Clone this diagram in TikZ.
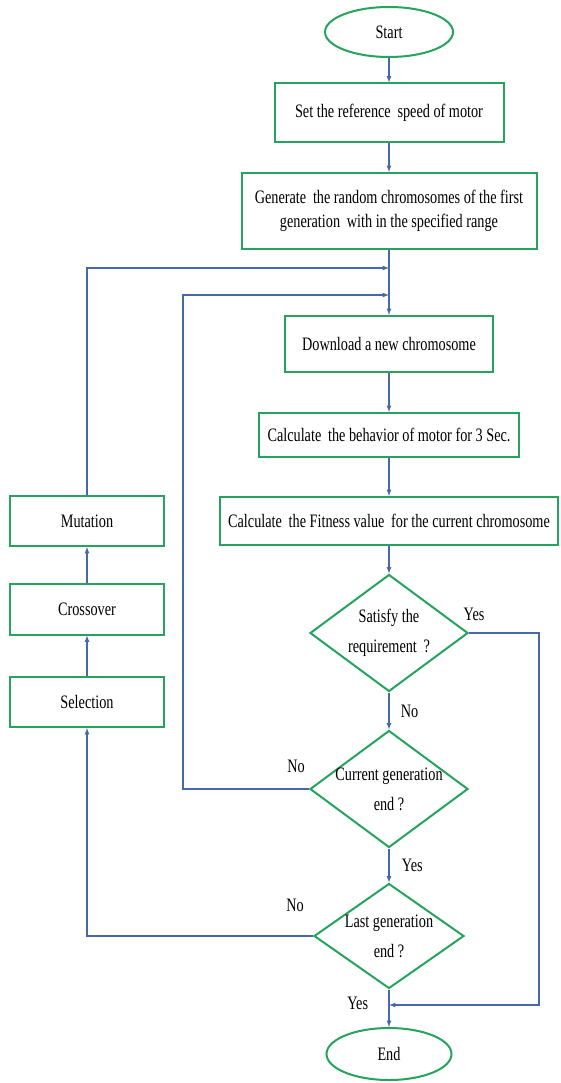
\documentclass[tikz,border=0pt]{standalone}
\usepackage{fontspec}
\setmainfont[FakeStretch=0.75]{Liberation Serif}
\usetikzlibrary{shapes.geometric}
\definecolor{boxgreen}{RGB}{38,163,92}
\definecolor{lineblue}{RGB}{72,104,172}

\begin{document}
\begin{tikzpicture}[x=1pt,y=-1pt,
        every node/.style={font=\fontsize{19}{24}\selectfont},
        proc/.style={draw=boxgreen,line width=2pt,inner sep=0pt,align=center},
        term/.style={ellipse,draw=boxgreen,line width=2pt,inner sep=0pt},
        cond/.style={diamond,draw=boxgreen,line width=2pt,inner sep=-4pt,aspect=1.35,
            align=center,minimum width=158pt,minimum height=117pt},
        flow/.style={draw=lineblue,line width=1.2pt,-latex}]
        \useasboundingbox (0,0) rectangle (560,1083);
        \fill[white] (0,0) rectangle (560,1083);

        % main column
        \node[term,minimum width=128pt,minimum height=50pt] (start) at (389,32) {Start};
        \node[proc,minimum width=229pt,minimum height=59pt] (setref) at (389,113) {Set the reference\, speed of motor};
        \node[proc,minimum width=295pt,minimum height=76pt] (gen) at (389,211) {Generate\, the random chromosomes of the first\\generation\, with in the specified range};
        \node[proc,minimum width=208pt,minimum height=56pt] (download) at (389,344) {Download a new chromosome};
        \node[proc,minimum width=260pt,minimum height=44pt] (behav) at (389,435) {Calculate\, the behavior of motor for 3 Sec.};
        \node[proc,minimum width=338pt,minimum height=48pt] (fitness) at (389,521) {Calculate\, the Fitness value\, for the current chromosome};
        \node[cond] (sat) at (389,633) {Satisfy the\\[6pt]requirement\, ?};
        \node[cond] (curgen) at (389,789) {Current generation\\[6pt]end ?};
        \node[cond,minimum width=150pt,minimum height=105pt] (lastgen) at (389,936) {Last generation\\[6pt]end ?};
        \node[term,minimum width=125pt,minimum height=52pt] (stop) at (389,1054) {End};

        % genetic operators
        \node[proc,minimum width=154pt,minimum height=50pt] (mutation) at (87,521) {Mutation};
        \node[proc,minimum width=154pt,minimum height=51pt] (crossover) at (87,609) {Crossover};
        \node[proc,minimum width=154pt,minimum height=50pt] (selection) at (87,702) {Selection};

        \coordinate (outerjoin) at (389,268);
        \coordinate (innerjoin) at (389,295);
        \coordinate (endjoin) at (389,1005);

        \draw[flow] (start) -- (setref);
        \draw[flow] (setref) -- (gen);
        \draw[flow] (gen) -- (download);
        \draw[flow] (download) -- (behav);
        \draw[flow] (behav) -- (fitness);
        \draw[flow] (fitness) -- (sat);
        \draw[flow] (sat) -- (curgen) node[midway,right=8pt] (satno) {No};
        \draw[flow] (curgen) -- (lastgen) node[midway,right=9pt] (curyes) {Yes};
        \draw[flow] (lastgen) -- (stop) node[pos=0.38,left=17pt] (lastyes) {Yes};

        % loops back
        \draw[flow] (sat.east) node[above=8pt,xshift=5pt] (satyes) {Yes} -- ++(70,0) |- (endjoin);
        \draw[flow] (curgen.west) node[above=12pt,xshift=-13pt] (curno) {No} -- ++(-126,0) |- (innerjoin);
        \draw[flow] (lastgen.west) node[above=20pt,xshift=-18pt] (lastno) {No} -| (selection);
        \draw[flow] (selection) -- (crossover);
        \draw[flow] (crossover) -- (mutation);
        \draw[flow] (mutation) |- (outerjoin);
\end{tikzpicture}
\end{document}
